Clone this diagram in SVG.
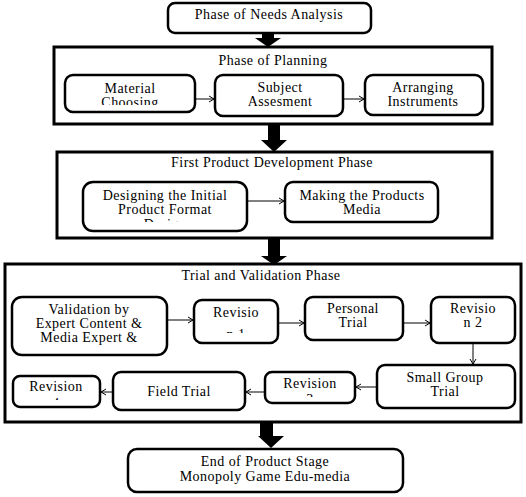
<svg xmlns="http://www.w3.org/2000/svg" width="526" height="497" viewBox="0 0 526 497" font-family="'Liberation Serif', 'DejaVu Serif', serif">
<style>
  text { font-family: "Liberation Serif", "Times New Roman", "DejaVu Serif", serif; font-size: 14px; letter-spacing: 0.45px; fill: #000; text-anchor: middle; }
  .phase { fill: #fff; stroke: #000; stroke-width: 3; }
  .node { fill: #fff; stroke: #000; stroke-width: 2.5; }
  .conn { stroke: #000; stroke-width: 1; fill: none; marker-end: url(#ah); }
  .big { fill: #000; }
</style>
<defs>
  <marker id="ah" markerUnits="userSpaceOnUse" markerWidth="8" markerHeight="8" viewBox="0 0 8 8" refX="7" refY="4" orient="auto">
    <polyline points="2,1 7,4 2,7" fill="none" stroke="#000" stroke-width="1"/>
  </marker>
  <clipPath id="c-needs"><rect x="168" y="2" width="203" height="27"/></clipPath>
  <clipPath id="c-mat"><rect x="65" y="75" width="130" height="30"/></clipPath>
  <clipPath id="c-des"><rect x="83" y="182" width="164" height="40"/></clipPath>
  <clipPath id="c-rev1"><rect x="194" y="300" width="84" height="33"/></clipPath>
  <clipPath id="c-rev3"><rect x="265" y="372" width="90" height="25"/></clipPath>
  <clipPath id="c-rev4"><rect x="13" y="376" width="87" height="24"/></clipPath>
</defs>

<g id="needs-analysis">
  <rect class="node" x="168" y="3" width="203" height="30" rx="7"/>
  <g clip-path="url(#c-needs)"><text x="269" y="19">Phase of Needs Analysis</text></g>
</g>

<g id="planning">
  <rect class="phase" x="54" y="47" width="438" height="77"/>
  <text x="273" y="65">Phase of Planning</text>
</g>
<g id="material-choosing">
  <rect class="node" x="65" y="75" width="130" height="37" rx="8"/>
  <g clip-path="url(#c-mat)"><text x="130" y="93">Material</text><text x="130" y="107">Choosing</text></g>
</g>
<g id="subject-assesment">
  <rect class="node" x="215" y="75" width="128" height="41" rx="8"/>
  <text x="280" y="92">Subject</text><text x="280" y="106">Assesment</text>
</g>
<g id="arranging-instruments">
  <rect class="node" x="365" y="75" width="118" height="40" rx="8"/>
  <text x="423" y="92">Arranging</text><text x="423" y="106">Instruments</text>
</g>

<g id="first-product">
  <rect class="phase" x="57" y="152" width="435" height="86"/>
  <text x="272" y="167">First Product Development Phase</text>
</g>
<g id="designing">
  <rect class="node" x="83" y="182" width="164" height="49" rx="10"/>
  <g clip-path="url(#c-des)"><text x="165" y="200">Designing  the Initial</text><text x="165" y="214">Product Format</text><text x="165" y="229">Design</text></g>
</g>
<g id="making">
  <rect class="node" x="285" y="182" width="153" height="40" rx="8"/>
  <text x="362" y="200">Making the Products</text><text x="362" y="214">Media</text>
</g>

<g id="trial-validation">
  <rect class="phase" x="5" y="264" width="516" height="158"/>
  <text x="261" y="280">Trial and Validation Phase</text>
</g>
<g id="validation">
  <rect class="node" x="12" y="297" width="155" height="58" rx="10"/>
  <text x="89" y="314">Validation by</text><text x="89" y="328">Expert Content &amp;</text><text x="89" y="342">Media Expert &amp;</text>
</g>
<g id="revision-1">
  <rect class="node" x="194" y="300" width="84" height="43" rx="8"/>
  <g clip-path="url(#c-rev1)"><text x="236" y="317">Revisio</text><text x="236" y="339">n 1</text></g>
</g>
<g id="personal-trial">
  <rect class="node" x="305" y="297" width="98" height="43" rx="8"/>
  <text x="353" y="313">Personal</text><text x="353" y="327">Trial</text>
</g>
<g id="revision-2">
  <rect class="node" x="431" y="297" width="84" height="46" rx="8"/>
  <text x="473" y="313">Revisio</text><text x="473" y="327">n 2</text>
</g>
<g id="small-group">
  <rect class="node" x="377" y="365" width="138" height="43" rx="8"/>
  <text x="445" y="382">Small Group</text><text x="445" y="396">Trial</text>
</g>
<g id="revision-3">
  <rect class="node" x="265" y="372" width="90" height="31" rx="7"/>
  <g clip-path="url(#c-rev3)"><text x="310" y="388">Revision</text><text x="310" y="404">3</text></g>
</g>
<g id="field-trial">
  <rect class="node" x="113" y="372" width="132" height="38" rx="8"/>
  <text x="179" y="396">Field Trial</text>
</g>
<g id="revision-4">
  <rect class="node" x="13" y="376" width="87" height="31" rx="7"/>
  <g clip-path="url(#c-rev4)"><text x="56" y="391">Revision</text><text x="56" y="408">4</text></g>
</g>

<g id="end-product">
  <rect class="node" x="128" y="449" width="275" height="43" rx="9"/>
  <text x="265" y="466">End of Product Stage</text><text x="265" y="481">Monopoly Game Edu-media</text>
</g>

<g id="connectors">
  <polygon class="big" points="262,33 274,33 274,38 281,38 268,47 255,38 262,38"/>
  <polygon class="big" points="268,124 280,124 280,140 287,140 274,152 261,140 268,140"/>
  <polygon class="big" points="268,239 280,239 280,256 287,256 274,265 261,256 268,256"/>
  <polygon class="big" points="260,423 273,423 273,436 284,436 271,448 258,436 260,436"/>
  <line class="conn" x1="195" y1="99" x2="214" y2="99"/>
  <line class="conn" x1="343" y1="99" x2="364" y2="99"/>
  <line class="conn" x1="247" y1="201" x2="284" y2="201"/>
  <line class="conn" x1="167" y1="320" x2="193" y2="320"/>
  <line class="conn" x1="278" y1="323" x2="304" y2="323"/>
  <line class="conn" x1="403" y1="323" x2="430" y2="323"/>
  <line class="conn" x1="473" y1="343" x2="473" y2="364"/>
  <line class="conn" x1="377" y1="387" x2="356" y2="387"/>
  <line class="conn" x1="265" y1="392" x2="246" y2="392"/>
  <line class="conn" x1="113" y1="392" x2="101" y2="392"/>
</g>
</svg>
